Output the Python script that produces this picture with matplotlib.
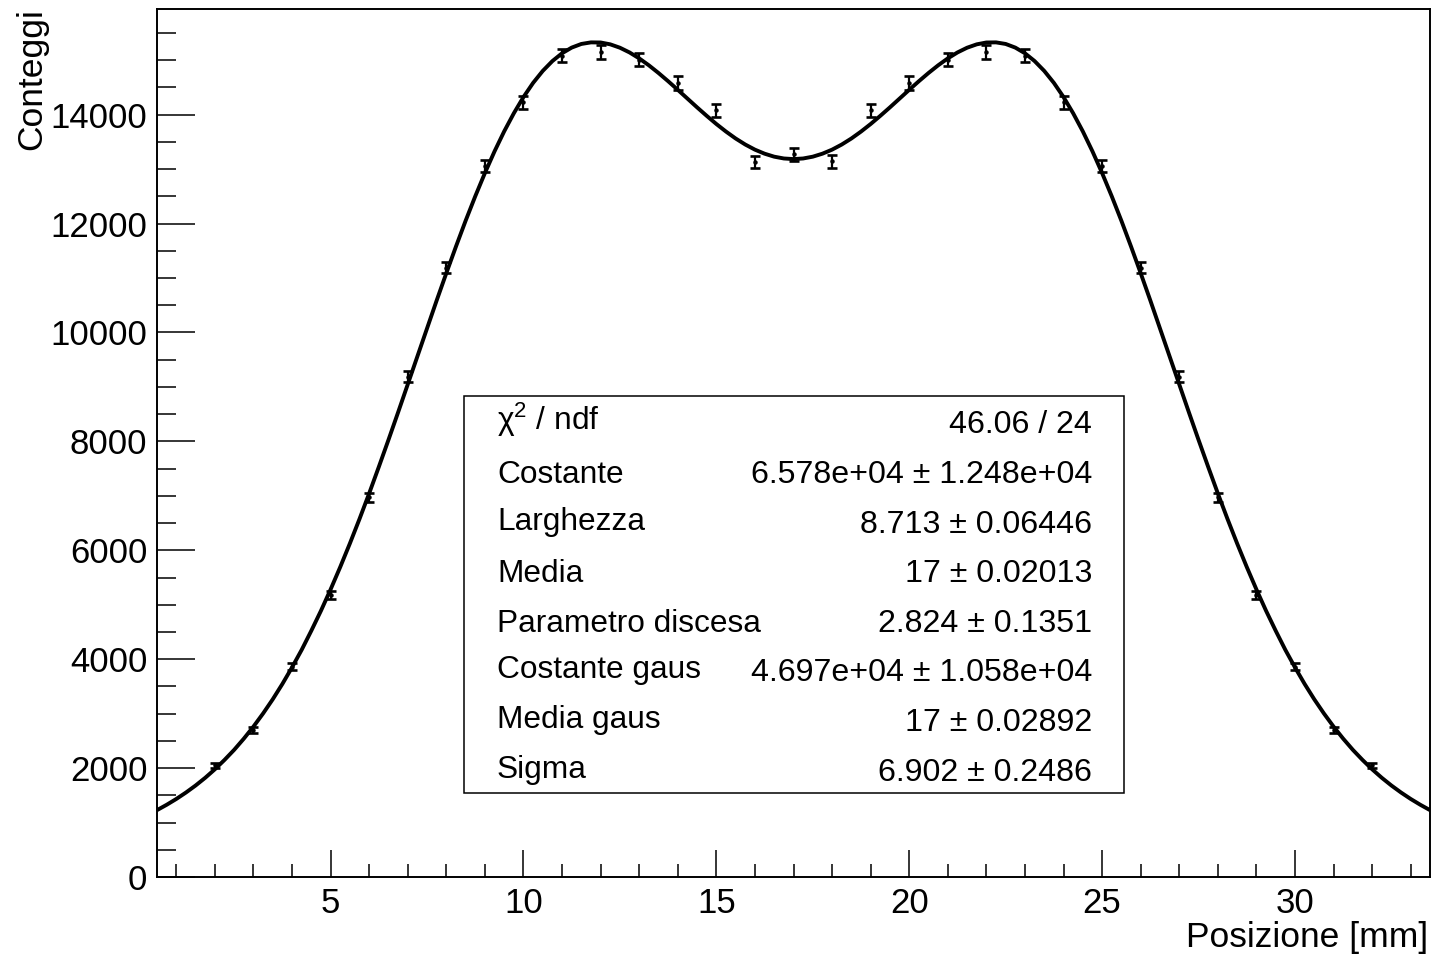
import matplotlib
matplotlib.use("Agg")
import matplotlib.pyplot as plt
import numpy as np
from matplotlib.ticker import MultipleLocator
from matplotlib.patches import Rectangle

plt.rcParams["font.family"] = ["Liberation Sans", "DejaVu Sans"]
plt.rcParams["mathtext.fontset"] = "custom"
plt.rcParams["mathtext.rm"] = "Liberation Sans"
plt.rcParams["mathtext.it"] = "Liberation Sans:italic"

# ---- data ----
positions = [2, 3, 4, 5, 6, 7, 8, 9, 10, 11, 12, 13, 14, 15, 16, 17,
             18, 19, 20, 21, 22, 23, 24, 25, 26, 27, 28, 29, 30, 31, 32]
counts = [2050, 2695, 3860, 5175, 6970, 9190, 11190, 13055, 14230, 15085,
          15150, 15010, 14580, 14080, 13130, 13270, 13140, 14080, 14580,
          15010, 15150, 15085, 14230, 13055, 11190, 9190, 6970, 5175, 3860,
          2695, 2050]
count_errors = [45, 52, 62, 72, 83, 96, 106, 114, 119, 123, 123, 123, 121,
                119, 115, 115, 115, 119, 121, 123, 123, 123, 119, 114, 106,
                96, 83, 72, 62, 52, 45]

# fit curve heights read at every 0.25 mm from 0.5 to 33.5
fit_x = np.arange(0.5, 33.501, 0.25)
fit_y = [1228, 1326, 1433, 1551, 1680, 1822, 1978, 2150, 2335, 2540, 2762,
         3003, 3263, 3545, 3849, 4171, 4522, 4889, 5281, 5693, 6125, 6576,
         7045, 7531, 8027, 8533, 9046, 9561, 10076, 10588, 11089, 11578,
         12051, 12501, 12927, 13326, 13693, 14025, 14323, 14583, 14803,
         14984, 15127, 15231, 15298, 15327, 15325, 15291, 15229, 15142,
         15033, 14906, 14765, 14614, 14456, 14295, 14134, 13978, 13828,
         13689, 13562, 13451, 13357, 13283, 13228, 13195, 13184,
         13195, 13228, 13283, 13357, 13451, 13562, 13689, 13828, 13978,
         14134, 14295, 14456, 14614, 14765, 14906, 15033, 15142, 15229,
         15291, 15325, 15327, 15298, 15231, 15127, 14984, 14803, 14583,
         14323, 14025, 13693, 13326, 12927, 12501, 12051, 11578, 11089,
         10588, 10076, 9561, 9046, 8533, 8027, 7531, 7045, 6576, 6125, 5693,
         5281, 4889, 4522, 4171, 3849, 3545, 3263, 3003, 2762, 2540, 2335,
         2150, 1978, 1822, 1680, 1551, 1433, 1326, 1228]

stats_labels = ["\u03c7$^{2}$ / ndf", "Costante", "Larghezza", "Media",
                "Parametro discesa", "Costante gaus", "Media gaus", "Sigma"]
stats_values = ["46.06 / 24", "6.578e+04 \u00b1 1.248e+04",
                "8.713 \u00b1 0.06446", "17 \u00b1 0.02013",
                "2.824 \u00b1 0.1351", "4.697e+04 \u00b1 1.058e+04",
                "17 \u00b1 0.02892", "6.902 \u00b1 0.2486"]

x_label = "Posizione [mm]"
y_label = "Conteggi"

# ---- figure ----
W, H = 1432, 955
fig = plt.figure(figsize=(W / 100, H / 100), dpi=100)
fig.patch.set_facecolor("white")


def fx(px):
    return px / W


def fy(py):
    return 1 - py / H


ax_l, ax_r, ax_t, ax_b = 157, 1430, 9, 877
ax = fig.add_axes([fx(ax_l), fy(ax_b), (ax_r - ax_l) / W, (ax_b - ax_t) / H])

ax.errorbar(positions, counts, yerr=count_errors, fmt="o", ms=2.2,
            color="black", ecolor="black", elinewidth=1.6, capsize=3.9,
            capthick=1.9, zorder=2)
ax.plot(fit_x, fit_y, color="black", lw=2.8, zorder=3,
        solid_joinstyle="round", solid_capstyle="butt")

ax.set_xlim(0.5, 33.5)
ax.set_ylim(0, 15940)

ax.xaxis.set_major_locator(MultipleLocator(5))
ax.xaxis.set_minor_locator(MultipleLocator(1))
ax.yaxis.set_major_locator(MultipleLocator(2000))
ax.yaxis.set_minor_locator(MultipleLocator(500))

ax.tick_params(axis="x", which="major", direction="in", length=19.4,
               width=1.1, pad=7, labelsize=25)
ax.tick_params(axis="x", which="minor", direction="in", length=9.4, width=1.1)
ax.tick_params(axis="y", which="major", direction="in", length=27.4,
               width=1.1, pad=7, labelsize=25)
ax.tick_params(axis="y", which="minor", direction="in", length=13.7,
               width=1.1)
for sp in ax.spines.values():
    sp.set_linewidth(1.4)

# axis titles (ROOT style: at the end of the axes)
fig.text(fx(1428), fy(947), x_label, ha="right", va="baseline", fontsize=25.5)
fig.text(fx(15), fy(8), y_label, ha="left", va="top", rotation=90,
         fontsize=25.5)

# ---- stats box ----
bx_l, bx_r, bx_t, bx_b = 464, 1124, 396, 793
fig.add_artist(Rectangle((fx(bx_l), fy(bx_b)), (bx_r - bx_l) / W,
                         (bx_b - bx_t) / H, transform=fig.transFigure,
                         facecolor="white", edgecolor="black", lw=1.1,
                         zorder=4))
row_h = (bx_b - bx_t) / len(stats_labels)
desc_chars = set("gjpqy\u03c7")
for i, (lab, val) in enumerate(zip(stats_labels, stats_values)):
    cy = bx_t + (i + 0.5) * row_h
    lab_off = 9.5 if desc_chars & set(lab) else 12.5
    fig.text(fx(497), fy(cy + lab_off), lab, ha="left", va="baseline",
             fontsize=22.8, zorder=5)
    fig.text(fx(1092), fy(cy + 12.5), val, ha="right", va="baseline",
             fontsize=23.1, zorder=5)

fig.savefig("out.png", dpi=100, facecolor="white")
